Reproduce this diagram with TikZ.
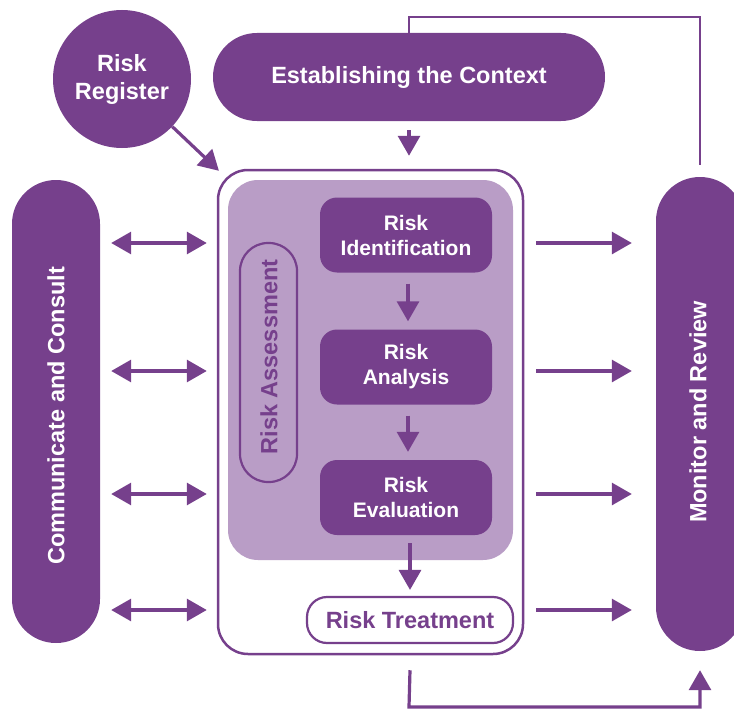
\documentclass[tikz,border=0pt]{standalone}
\usepackage{fontspec}
\setmainfont{Liberation Sans}
\usetikzlibrary{arrows.meta}

\definecolor{plum}{RGB}{118,64,140}
\definecolor{lilac}{RGB}{185,157,198}

\tikzset{
  big/.style={font=\bfseries\fontsize{23.5}{28}\selectfont},
  small/.style={font=\bfseries\fontsize{21}{26}\selectfont},
  solidpill/.style={fill=plum, draw=none, text=white, align=center, inner sep=0pt},
  stepbox/.style={solidpill, small, rounded corners=17pt, minimum width=172pt, minimum height=75pt},
  flowline/.style={draw=plum, line width=3.2pt},
  tip/.tip={Triangle[length=20pt,width=22pt]},
  onearrow/.style={flowline, -{tip}},
  twoarrow/.style={flowline, {tip}-{tip}},
}

\begin{document}
\begin{tikzpicture}[x=1pt, y=-1pt]
\useasboundingbox (0,0) rectangle (734,709);

% outer frame and shaded assessment panel
\node[draw=plum, line width=2.5pt, fill=white, rounded corners=30pt,
      minimum width=305pt, minimum height=484pt, inner sep=0pt] (outer) at (370.5,412) {};
\node[fill=lilac, rounded corners=30pt, minimum width=285pt, minimum height=380pt,
      inner sep=0pt] (panel) at (370.5,370) {};

% side columns
\node[solidpill, rounded corners=43.9pt, minimum width=88pt, minimum height=463pt] (comm) at (56,411.5) {};
\node[big, text=white, rotate=90] at (56,416) {Communicate and Consult};
\node[solidpill, rounded corners=43.9pt, minimum width=88pt, minimum height=474pt] (mon) at (700,414) {};
\node[big, text=white, rotate=90] at (698,412) {Monitor and Review};

% top elements
\node[solidpill, big, circle, minimum size=138pt] (reg) at (122,79) {Risk\\Register};
\node[solidpill, big, rounded corners=43.9pt, minimum width=392pt, minimum height=88pt] (ctx) at (409,77) {Establishing the Context};

% assessment label
\node[draw=plum, line width=2.2pt, rounded corners=28pt, minimum width=57pt, minimum height=239pt,
      inner sep=0pt] (assess) at (268.5,362.5) {};
\node[big, text=plum, rotate=90] at (269,357) {Risk Assessment};

% process steps
\node[stepbox] (ident) at (406,235) {Risk\\[-1pt]Identification};
\node[stepbox] (anal) at (406,367) {Risk\\[-1pt]Analysis};
\node[stepbox] (eval) at (406,497.5) {Risk\\[-1pt]Evaluation};
\node[draw=plum, line width=2.2pt, fill=white, text=plum, big, rounded corners=20pt,
      minimum width=206pt, minimum height=46pt, inner sep=0pt] (treat) at (410,620) {Risk Treatment};

% vertical flow
\draw[onearrow, shorten <=9pt, shorten >=13pt] (ctx.south) -- (ctx.south |- outer.north);
\draw[onearrow, shorten <=11pt, shorten >=8pt] (ident.south -| 408,0) -- (anal.north -| 408,0);
\draw[onearrow, shorten <=11pt, shorten >=8pt] (anal.south -| 408,0) -- (eval.north -| 408,0);
\draw[onearrow, shorten <=8pt, shorten >=6pt] (eval.south -| treat.south) -- (treat.north);

% register feed
\draw[onearrow, shorten >=-3pt] (reg) -- (outer.north west);

% rows of exchange arrows
\foreach \yy in {243,371,494,610}{
  \coordinate (row) at (0,\yy);
  \draw[twoarrow, shorten <=11pt, shorten >=10pt] (comm.east |- row) -- (outer.west |- row);
  \draw[onearrow, shorten <=12pt, shorten >=24pt] (outer.east |- row) -- (mon.west |- row);
}

% feedback loops
\coordinate (loopbl) at (409,707);
\coordinate (loopbr) at (700,707);
\draw[onearrow] ([yshift=-15pt]outer.south -| treat.south) -- (loopbl) -- (loopbr) -- ([yshift=-19pt]mon.south);
\coordinate (looptr) at (700,17);
\coordinate (looptl) at (409,17);
\draw[flowline, line width=2.8pt] ([yshift=12pt]mon.north) -- (looptr) -- (looptl) -- (ctx.north);
\end{tikzpicture}
\end{document}
